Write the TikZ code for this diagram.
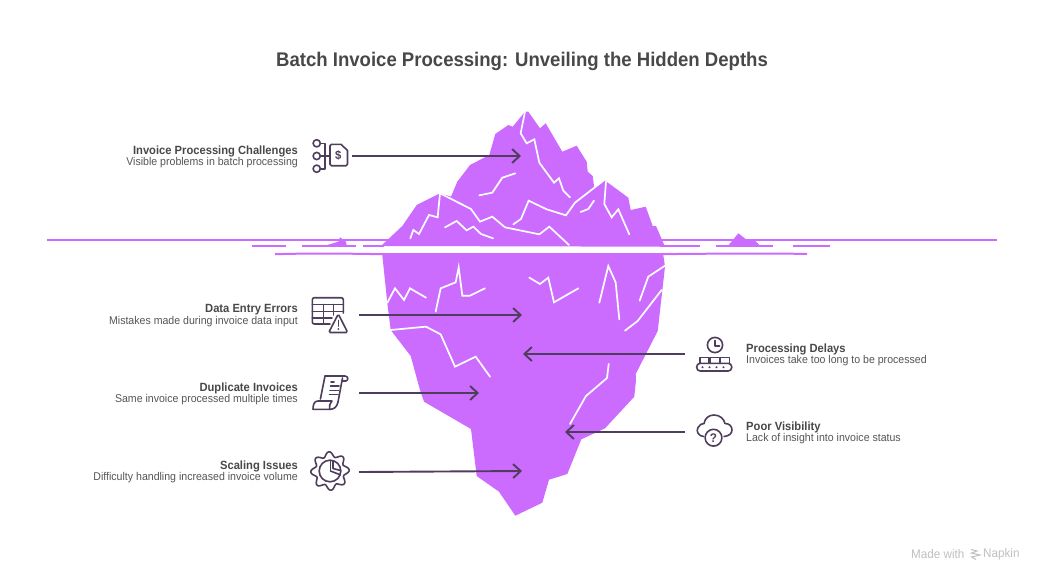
\documentclass[tikz,border=0pt]{standalone}
\usepackage{fontspec}
\setmainfont[FakeStretch=0.94]{Liberation Sans}
\usetikzlibrary{arrows.meta}
\definecolor{berg}{HTML}{CC6CFF}
\definecolor{ink}{HTML}{4E3D5C}
\definecolor{ttl}{HTML}{484848}
\definecolor{dsc}{HTML}{555555}
\definecolor{wm}{HTML}{C0C0C0}
\tikzset{
 x=1pt,y=-1pt,
 crack/.style={draw=white,line width=1.7pt,line join=miter,line cap=round},
 water/.style={draw=berg,line width=2pt},
 conn/.style={draw=ink,line width=1.9pt,-{Straight Barb[length=7.5pt,width=14pt,line width=1.9pt]}},
 icon/.style={draw=ink,line width=1.6pt,line join=round,line cap=round},
 head/.style={font=\fontsize{11.9}{13}\selectfont\bfseries,text=ttl,inner sep=0pt},
 desc/.style={font=\fontsize{11.25}{12}\selectfont,text=dsc,inner sep=0pt},
}
\begin{document}
\begin{tikzpicture}
\useasboundingbox (0,0) rectangle (1044,582);
\fill[white] (0,0) rectangle (1044,582);
\node[font=\fontsize{19.75}{22}\selectfont\bfseries,text=ttl,inner sep=0pt] (title) at (522,61) {Batch Invoice Processing: Unveiling the Hidden Depths};
% water
\draw[water] (47,240) -- (997,240);
\draw[water] (252,245.5) -- (286,245.5) (302,245.5) -- (356,245.5) (363,245.5) -- (384,245.5);
\draw[water] (660,245.5) -- (700,245.5) (716,245.5) -- (773,245.5) (793,245.5) -- (830,245.5);
\draw[water] (275,254.2) .. controls (320,253) and (340,253.6) .. (385,254.2) -- (660,254.2) .. controls (720,253.4) and (760,253.6) .. (807,253.8);
% small bergs
\fill[berg] (327.3,245) -- (338.3,241.7) -- (340,237.3) -- (346,241.7) -- (346.7,245) -- cycle;
\fill[berg] (728.3,245.5) -- (738.3,233.3) -- (748.3,241) -- (753.3,239) -- (760,245.5) -- cycle;
% top of iceberg
\fill[berg] (381,246) -- (402.3,226) -- (416.7,205) -- (440,193.3) -- (451,196.7) -- (457.3,181.7) -- (470,165) -- (489.3,155) -- (495.3,134) -- (508.3,125) -- (512.7,126.7) -- (525,111.7) -- (528.3,111.7) -- (540,128.3) -- (545.7,123.3) -- (562.3,151.7) -- (576.7,145.7) -- (586.7,161.7) -- (587.7,171.7) -- (592.7,176) -- (594.3,188.3) -- (604.3,180) -- (628.3,197.7) -- (630.7,210) -- (645.7,206.7) -- (652.7,226) -- (656,226) -- (665,246.7) -- cycle;
\begin{scope}[shift={(370,100)},x=0.3333pt,y=-0.3333pt]
\draw[crack] (465,35) -- (452,100) -- (470,130) -- (493,118) -- (508,188) -- (552,248) -- (567,235) -- (580,272) -- (600,292);
\draw[crack] (436,220) -- (397,233) -- (367,278) -- (328,286);
\draw[crack] (210,280) -- (203,352) -- (177,345) -- (147,402) -- (130,390) -- (121,415);
\draw[crack] (210,280) -- (303,327) -- (330,365) -- (367,350) -- (405,382) -- (508,403) -- (538,380) -- (597,435);
\draw[crack] (703,240) -- (615,308) -- (588,346) -- (530,328) -- (476,302) -- (453,357) -- (430,373);
\draw[crack] (225,382) -- (260,363) -- (290,391) -- (310,380) -- (333,402) -- (369,415);
\draw[crack] (708,245) -- (703,312) -- (725,352) -- (745,328) -- (778,403);
\draw[crack] (672,302) -- (655,327) -- (632,336);
\end{scope}
% bottom of iceberg
\fill[berg] (382.3,255) -- (387.3,303) -- (390.7,330) -- (410.7,356) -- (420,390) -- (424,401.7) -- (471,429) -- (476.7,476) -- (499,491.7) -- (515.3,515.7) -- (542.3,502.7) -- (549,479.7) -- (567.3,474) -- (581.3,439.3) -- (605,428.3) -- (634.3,396.7) -- (636,380) -- (635.7,374) -- (657.7,331) -- (665,266.7) -- (663.3,255) -- cycle;
\begin{scope}[shift={(370,250)},x=0.3333pt,y=-0.3333pt]
\draw[crack] (52,158) -- (75,115) -- (102,150) -- (120,115) -- (168,143);
\draw[crack] (197,185) -- (212,115) -- (257,97) -- (266,52) -- (277,137) -- (300,137) -- (345,115);
\draw[crack] (478,83) -- (510,102) -- (535,83) -- (552,157) -- (625,115);
\draw[crack] (688,158) -- (715,48) -- (737,97) -- (748,208);
\draw[crack] (809,152) -- (835,80) -- (885,47);
\draw[crack] (765,242) -- (803,213) -- (875,120);
\draw[crack] (62,240) -- (168,230) -- (212,253) -- (255,350) -- (317,320) -- (360,380);
\end{scope}
\draw[crack] (608.7,364) -- (607,378) -- (586,396) -- (570,424);
% connector ends
\coordinate (s1) at (352,156); \coordinate (e1) at (521,156);
\coordinate (s2) at (359,315); \coordinate (e2) at (522,315);
\coordinate (s3) at (359,393); \coordinate (e3) at (479,393);
\coordinate (s4) at (359,472); \coordinate (e4) at (522,471);
\coordinate (s5) at (685,354); \coordinate (e5) at (523,354);
\coordinate (s6) at (685,432); \coordinate (e6) at (565,432);
\foreach \a in {1,...,6} \draw[conn] (s\a) -- (e\a);
% labels
\node[head,anchor=east] (h1) at (298,151) {Invoice Processing Challenges};
\node[desc,anchor=east] (d1) at (298,163) {Visible problems in batch processing};
\node[head,anchor=east] (h2) at (298,310) {Data Entry Errors};
\node[desc,anchor=east] (d2) at (298,322) {Mistakes made during invoice data input};
\node[head,anchor=east] (h3) at (298,388) {Duplicate Invoices};
\node[desc,anchor=east] (d3) at (298,400) {Same invoice processed multiple times};
\node[head,anchor=east] (h4) at (298,466) {Scaling Issues};
\node[desc,anchor=east] (d4) at (298,478) {Difficulty handling increased invoice volume};
\node[head,anchor=west] (h5) at (746,349) {Processing Delays};
\node[desc,anchor=west] (d5) at (746,361) {Invoices take too long to be processed};
\node[head,anchor=west] (h6) at (746,427) {Poor Visibility};
\node[desc,anchor=west] (d6) at (746,439) {Lack of insight into invoice status};
% icon 1
\draw[icon] (316.7,143.3) circle (3.6) (316.7,156) circle (3.6) (316.7,168.7) circle (3.6);
\draw[icon] (320.5,143.3) -- (325,143.3) -- (325,168.7) -- (320.5,168.7) (320.5,156) -- (330,156);
\draw[icon] (332,144.3) -- (341,144.3) -- (347.5,150.5) -- (347.5,163.5) [rounded corners=1.5pt] -- (347.5,165.7) -- (330,165.7) -- (330,144.3) -- (334,144.3);
\node[font=\fontsize{12}{12}\selectfont\bfseries,text=ink,inner sep=0pt] (i1) at (338.2,155.4) {\$};
% icon 2
\draw[icon,rounded corners=2pt] (330,324) -- (312.3,324) -- (312.3,297.7) -- (343.3,297.7) -- (343.3,313);
\draw[icon] (312.3,304.5) -- (343.3,304.5) (312.3,311.5) -- (343.3,311.5) (312.3,318) -- (332,318) (323.3,304.5) -- (323.3,324) (333.3,304.5) -- (333.3,315);
\draw[icon,fill=white,rounded corners=1.5pt] (338.3,314) -- (328.7,332.5) -- (347.7,332.5) -- cycle;
\draw[icon] (338.3,320.5) -- (338.3,326);
\fill[ink] (338.3,329) circle (1);
% icon 3
\draw[icon] (325,376) -- (320.4,399);
\draw[icon] (325,376) -- (345,376) .. controls (348,376) and (349,380) .. (346,381) -- (342.5,381);
\draw[icon] (342.5,378) -- (338,402) .. controls (337,407) and (334,409.3) .. (330,409.3);
\draw[icon] (330,409.3) -- (313,409.3) .. controls (313,405) and (314,401) .. (318,401) -- (332,401) .. controls (330,403) and (329,406) .. (329.5,409.3);
\draw[icon] (331,382) -- (334,382) (330.5,386) -- (339,386) (330,390.3) -- (338.5,390.3) (329.5,394.5) -- (338,394.5);
% icon 4
\draw[icon] plot[domain=0:360,samples=145,smooth] ({330+(16.8+2.4*cos(8*\x+22))*cos(\x)},{471+(16.8+2.4*cos(8*\x+22))*sin(\x)}) -- cycle;
\draw[icon] (330,471) circle (10.8);
\draw[icon] (330.5,471) -- (339.5,474.5);
\draw[icon] (330.5,471) -- (330.5,460.5);
\draw[icon] (333,468.5) -- (333,461) (333,468.5) -- (340.5,470.5);
% icon 5
\draw[icon] (715,345) circle (7.6);
\draw[icon] (715,340.5) -- (715,346) -- (719.5,346);
\draw[icon] (700,363.3) -- (700,357.5) -- (709,357.5) -- (709,363.3);
\draw[icon] (710.3,363.3) -- (710.3,357.5) -- (719.3,357.5) -- (719.3,363.3);
\draw[icon] (720.6,363.3) -- (720.6,357.5) -- (729.3,357.5) -- (729.3,363.3);
\draw[icon,rounded corners=3.5pt] (696.7,363.3) rectangle (731.7,371);
\foreach \p in {702.5,709.5,716.5,723.5} \fill[ink] (\p,367.2) circle (1.1);
% icon 6
\draw[icon] (703.5,436.5) .. controls (698,436) and (696,431) .. (698,427.5) .. controls (699.5,424.5) and (702,423.5) .. (704,423.5) .. controls (705,418) and (709,415) .. (714,415) .. controls (720,415) and (724,419) .. (725,423.5) .. controls (729,423.5) and (732,426) .. (732,430) .. controls (732,433.5) and (729,436) .. (724,436.5);
\draw[icon] (713.5,437.7) circle (8.4);
\node[font=\fontsize{12.5}{12}\selectfont\bfseries,text=ink,inner sep=0pt] (i6) at (713.5,437.7) {?};
% watermark
\node[font=\fontsize{12.4}{13}\selectfont,text=wm,inner sep=0pt,anchor=west] (m1) at (911,554.5) {Made with};
\node[font=\fontsize{12.4}{13}\selectfont,text=wm,inner sep=0pt,anchor=west] (m2) at (983,554.5) {Napkin};
\draw[draw=wm,line width=1pt] (971,549.5) -- (977,551) -- (971.5,553) -- (980,555) -- (971.5,557) -- (976,559.5);
\end{tikzpicture}
\end{document}
